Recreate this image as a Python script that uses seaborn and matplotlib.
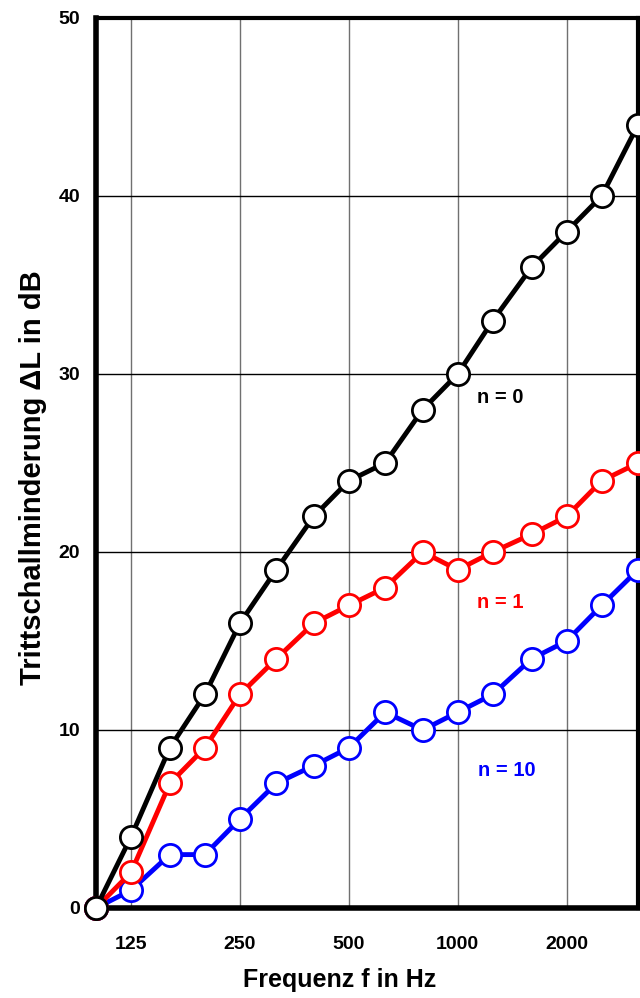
import numpy as np
import pandas as pd
import matplotlib
matplotlib.use("Agg")
import matplotlib.pyplot as plt
from matplotlib.ticker import FixedLocator, NullFormatter
import seaborn as sns

freqs = [100, 125, 160, 200, 250, 315, 400, 500, 630, 800, 1000, 1250, 1600, 2000, 2500, 3150]
n0 = [0, 4, 9, 12, 16, 19, 22, 24, 25, 28, 30, 33, 36, 38, 40, 44]
n1 = [0, 2, 7, 9, 12, 14, 16, 17, 18, 20, 19, 20, 21, 22, 24, 25]
n10 = [0, 1, 3, 3, 5, 7, 8, 9, 11, 10, 11, 12, 14, 15, 17, 19]
series_names = ["n = 0", "n = 1", "n = 10"]
series_colors = ["#000000", "#ff0000", "#0000ff"]
xtick_vals = [125, 250, 500, 1000, 2000]
xtick_labels = ["125", "250", "500", "1000", "2000"]
ytick_vals = [0, 10, 20, 30, 40, 50]

sns.set_theme(style="white")
plt.rcParams["font.family"] = ["Liberation Sans", "DejaVu Sans"]
plt.rcParams.update({"text.color": "black", "axes.labelcolor": "black",
                     "xtick.color": "black", "ytick.color": "black"})

W, H = 640, 998
fig = plt.figure(figsize=(W / 100, H / 100), dpi=100)
ax = fig.add_axes([96 / W, 1 - 908 / H, (638 - 96) / W, (908 - 18) / H])

df = pd.DataFrame({"f": freqs * 3,
                   "dL": n0 + n1 + n10,
                   "s": [series_names[0]] * 16 + [series_names[1]] * 16 + [series_names[2]] * 16})

for name, col in list(zip(series_names, series_colors))[::-1]:
    sub = df[df["s"] == name]
    sns.lineplot(data=sub, x="f", y="dL", ax=ax, color=col, linewidth=3.5,
                 marker="o", markersize=16, markerfacecolor="white",
                 markeredgecolor=col, markeredgewidth=2, clip_on=False,
                 legend=False, zorder=5)

ax.set_xscale("log")
ax.set_xlim(100, 3150)
ax.set_ylim(0, 50)

ax.xaxis.set_major_locator(FixedLocator(xtick_vals))
ax.set_xticklabels(xtick_labels)
ax.xaxis.set_minor_locator(FixedLocator([f for f in freqs if f not in xtick_vals]))
ax.xaxis.set_minor_formatter(NullFormatter())
ax.set_yticks(ytick_vals)
ax.set_yticklabels([str(v) for v in ytick_vals])

for v in xtick_vals:
    ax.axvline(v, color="#707070", lw=1.0, zorder=1)
for v in ytick_vals[1:-1]:
    ax.axhline(v, color="black", lw=1.0, zorder=1)

ax.tick_params(axis="x", which="both", direction="in", length=6, width=3, color="black",
               pad=20, labelsize=14)
ax.tick_params(axis="y", which="both", length=0, pad=11.5, labelsize=14)
for lab in ax.get_xticklabels() + ax.get_yticklabels():
    lab.set_fontweight("bold")

for side, lw in [("left", 4), ("bottom", 4), ("top", 3), ("right", 3)]:
    ax.spines[side].set_visible(True)
    ax.spines[side].set_color("black")
    ax.spines[side].set_linewidth(lw)
    ax.spines[side].set_zorder(4)

ax.set_xlabel("Frequenz f in Hz", fontsize=18, fontweight="bold")
ax.set_ylabel("Trittschallminderung \u0394L in dB", fontsize=21, fontweight="bold")
ax.xaxis.set_label_coords((340 - 96) / 542, -(968 - 908) / 890)
ax.yaxis.set_label_coords(-(96 - 47) / 542, (908 - 478) / 890)

ax.text(1130, 28.7, "n = 0", color=series_colors[0], fontsize=14.5, fontweight="bold", ha="left", va="center")
ax.text(1130, 17.15, "n = 1", color=series_colors[1], fontsize=14.5, fontweight="bold", ha="left", va="center")
ax.text(1135, 7.75, "n = 10", color=series_colors[2], fontsize=14.5, fontweight="bold", ha="left", va="center")

fig.savefig("out.png", dpi=100)
